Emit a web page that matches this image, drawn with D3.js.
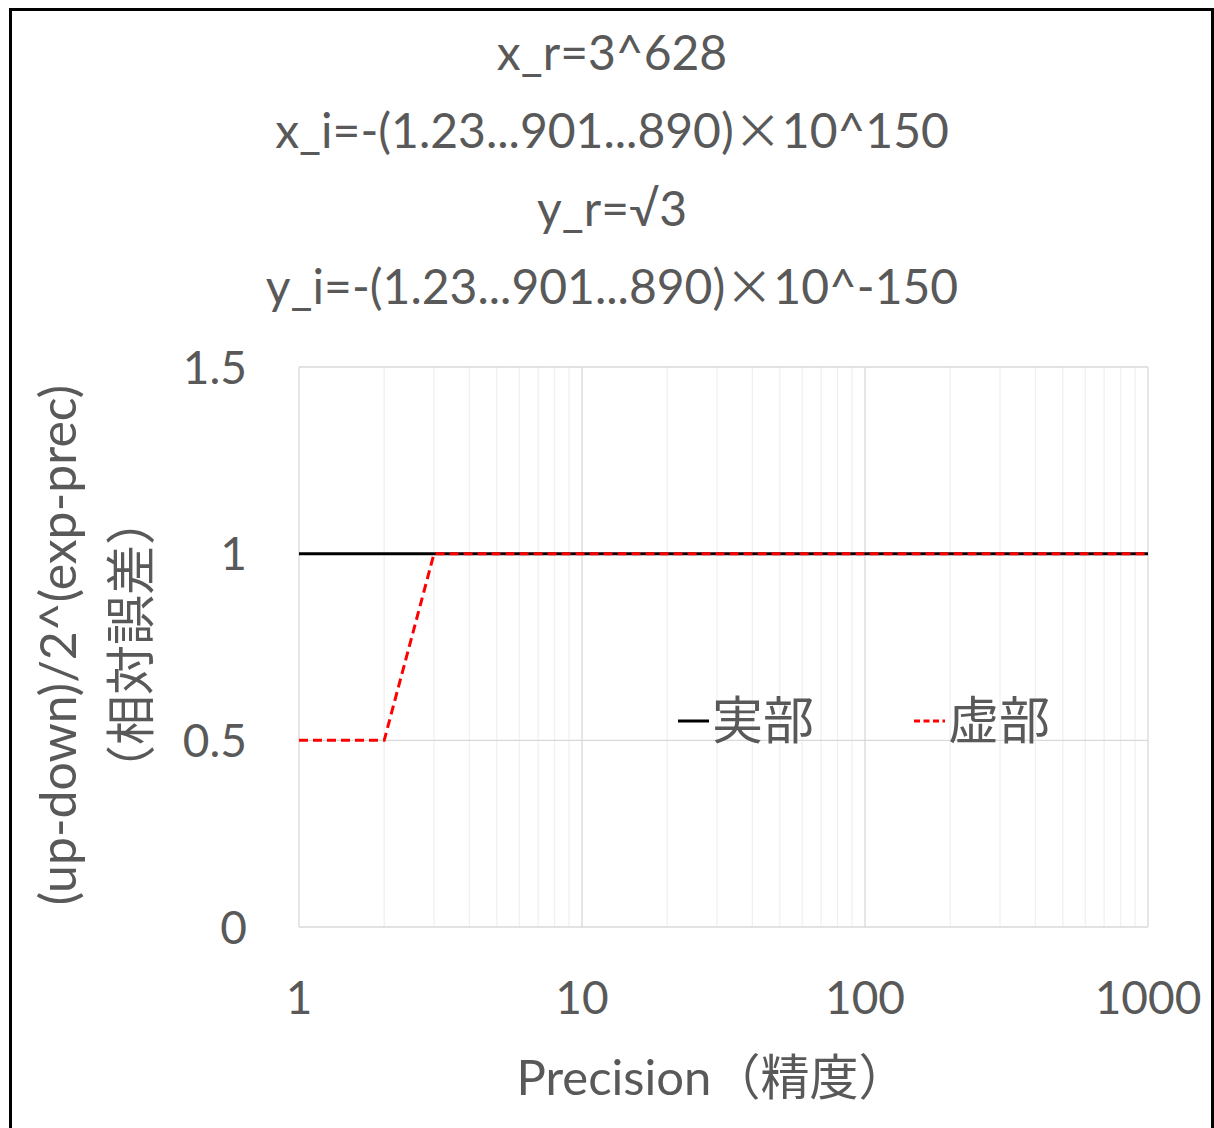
<!DOCTYPE html>
<html>
<head>
<meta charset="utf-8">
<script src="https://cdn.jsdelivr.net/npm/d3@7"></script>
<style>
  body { margin: 0; background: #fff; }
  text { font-family: Lato, "Noto Sans CJK JP", sans-serif; fill: #595959; }
  .cjk { font-family: "Noto Sans CJK JP", sans-serif; }
</style>
</head>
<body>
<div class="container"></div>
<script>
// data
let precision = [1, 2, 3, 10, 100, 1000]
let realPart = [1, 1, 1, 1, 1, 1]
let imagPart = [0.5, 0.5, 1, 1, 1, 1]
let xTicks = [1, 10, 100, 1000]
let yTicks = [0, 0.5, 1, 1.5]
let titleLines = [
  'x_r=3^628',
  'x_i=-(1.23...901...890)\u00d710^150',
  'y_r=\u221a3',
  'y_i=-(1.23...901...890)\u00d710^-150'
]
let legendNames = ['実部', '虚部']

let W = 1214, H = 1128
let plotL = 299, plotR = 1148, plotT = 367, plotB = 927

let svg = d3.select('.container')
    .append('svg')
    .attr('width', W)
    .attr('height', H)

// outer frame
svg.append('rect')
    .attr('x', 10.5).attr('y', 9.5)
    .attr('width', 1202).attr('height', 1140)
    .attr('fill', 'none')
    .attr('stroke', '#000')
    .attr('stroke-width', 3)

let x = d3.scaleLog().domain([1, 1000]).range([plotL, plotR])
let y = d3.scaleLinear().domain([0, 1.5]).range([plotB, plotT])

// minor vertical grid
let minor = []
for (let d = 1; d < 1000; d *= 10) {
  for (let k = 2; k <= 9; k++) minor.push(d * k)
}
svg.append('g').selectAll('line')
    .data(minor)
    .enter().append('line')
    .attr('x1', d => x(d)).attr('x2', d => x(d))
    .attr('y1', plotT).attr('y2', plotB)
    .attr('stroke', '#f0f0f0')
    .attr('stroke-width', 1.3)

// major vertical grid
svg.append('g').selectAll('line')
    .data(xTicks)
    .enter().append('line')
    .attr('x1', d => x(d)).attr('x2', d => x(d))
    .attr('y1', plotT).attr('y2', plotB)
    .attr('stroke', '#d9d9d9')
    .attr('stroke-width', 1.3)

// horizontal grid
svg.append('g').selectAll('line')
    .data(yTicks)
    .enter().append('line')
    .attr('x1', plotL).attr('x2', plotR)
    .attr('y1', d => y(d)).attr('y2', d => y(d))
    .attr('stroke', '#d9d9d9')
    .attr('stroke-width', 1.3)

// tick labels
svg.append('g').selectAll('text')
    .data(yTicks)
    .enter().append('text')
    .attr('x', 247)
    .attr('y', d => y(d))
    .attr('dy', '0.36em')
    .attr('text-anchor', 'end')
    .style('font-size', '46px')
    .text(d => d)

svg.append('g').selectAll('text')
    .data(xTicks)
    .enter().append('text')
    .attr('x', d => x(d))
    .attr('y', 997)
    .attr('dy', '0.36em')
    .attr('text-anchor', 'middle')
    .style('font-size', '46px')
    .text(d => d)

// title, the multiplication sign comes from the CJK font (full width)
svg.append('g').selectAll('text')
    .data(titleLines)
    .enter().append('text')
    .attr('x', 612)
    .attr('y', (d, i) => 53 + i * 78)
    .attr('dy', '0.36em')
    .attr('text-anchor', 'middle')
    .style('font-size', '48px')
    .each(function(d) {
        let parts = d.split('\u00d7')
        let t = d3.select(this)
        t.append('tspan').text(parts[0])
        if (parts.length > 1) {
            t.append('tspan').attr('class', 'cjk').text('\u00d7')
            t.append('tspan').text(parts[1])
        }
    })

// axis titles
svg.append('text')
    .attr('x', 712).attr('y', 1077)
    .attr('dy', '0.36em')
    .attr('text-anchor', 'middle')
    .style('font-size', '49px')
    .text('Precision（精度）')

let yTitle = svg.append('text')
    .attr('transform', 'translate(58,645) rotate(-90)')
    .attr('text-anchor', 'middle')
    .style('font-size', '50px')
yTitle.append('tspan').attr('x', 0).attr('dy', '0.36em').text('(up-down)/2^(exp-prec)')
yTitle.append('tspan').attr('x', 0).attr('dy', '1.45em').text('（相対誤差）')

// lines
let line = d3.line()
    .x((d, i) => x(precision[i]))
    .y(d => y(d))

svg.append('path')
    .attr('d', line(realPart))
    .attr('fill', 'none')
    .attr('stroke', '#000')
    .attr('stroke-width', 3)

svg.append('path')
    .attr('d', line(imagPart))
    .attr('fill', 'none')
    .attr('stroke', '#ff0000')
    .attr('stroke-width', 3)
    .attr('stroke-dasharray', '9,5')

// legend
let legendX = [678, 914]
let legend = svg.append('g').selectAll('g')
    .data(legendNames)
    .enter().append('g')
    .attr('transform', (d, i) => 'translate(' + legendX[i] + ',721)')

legend.append('line')
    .attr('x1', 0).attr('x2', 31)
    .attr('stroke', (d, i) => i == 0 ? '#000' : '#ff0000')
    .attr('stroke-width', 3)
    .attr('stroke-dasharray', (d, i) => i == 0 ? null : '6,3.5')

legend.append('text')
    .attr('x', 34)
    .attr('dy', '0.36em')
    .style('font-size', '51px')
    .text(d => d)
</script>
</body>
</html>
